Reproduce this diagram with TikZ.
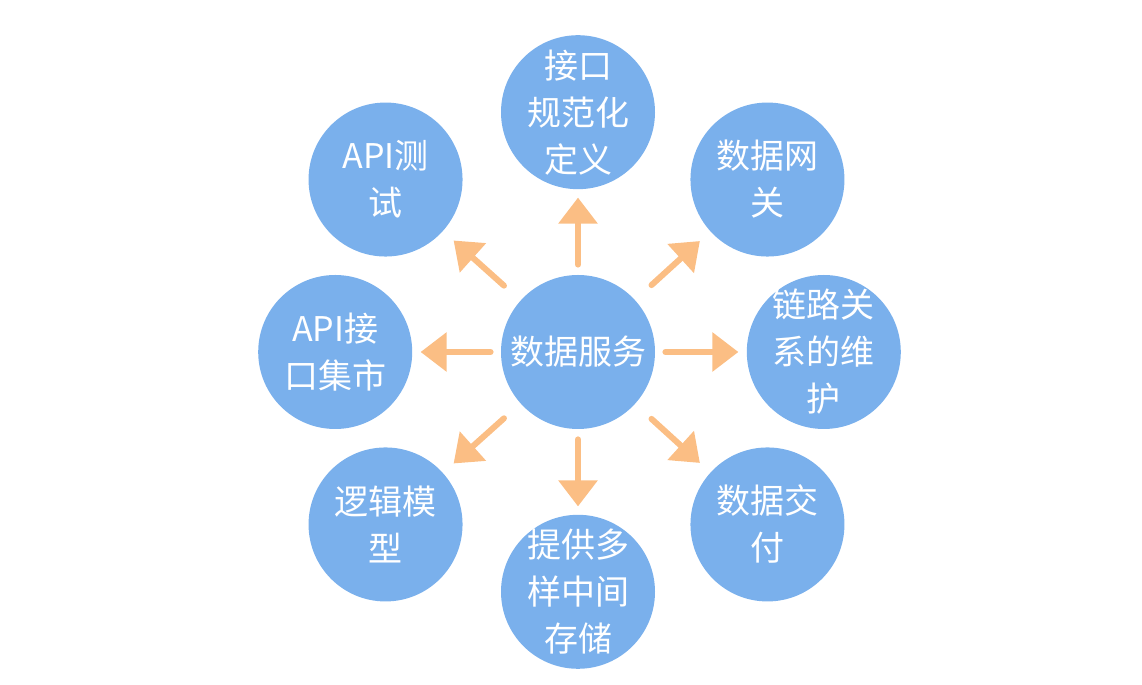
\documentclass[tikz,border=0pt]{standalone}
\usepackage{fontspec}
\setmainfont{Noto Sans CJK SC}
\usetikzlibrary{arrows.meta,positioning}
\definecolor{circblue}{RGB}{122,176,236}
\definecolor{arroworange}{RGB}{251,190,132}

\begin{document}
\begin{tikzpicture}[x=0.5pt, y=0.5pt,
    topic/.style={circle, fill=circblue, minimum size=77pt, inner sep=-10pt, align=center, text=white, font=\fontsize{17}{23.5}\selectfont},
    flow/.style={-{Triangle[length=13pt, width=19pt]}, line width=3pt, line cap=round, color=arroworange, shorten <=5pt, shorten >=4pt},
    diagflow/.style={flow, shorten <=11pt, shorten >=7pt}
]
    \useasboundingbox (0,0) rectangle (1142,685);

    \node[topic] (svc) at (578,333) {数据服务};
    \node[topic, above=42.5pt of svc] (spec) {接口\\规范化\\定义};
    \node[topic, below=42.5pt of svc] (store) {提供多\\样中间\\存储};
    \node[topic, left=44pt of svc] (market) {API接\\口集市};
    \node[topic, right=45.5pt of svc] (lineage) {链路关\\系的维\\护};
    \node[topic, above left=31.5pt and 41.5pt of svc] (apitest) {API测\\试};
    \node[topic, above right=31.5pt and 40pt of svc] (gateway) {数据网\\关};
    \node[topic, below left=31.5pt and 41.5pt of svc] (model) {逻辑模\\型};
    \node[topic, below right=31.5pt and 40pt of svc] (deliver) {数据交\\付};

    \draw[flow] (svc) -- (spec);
    \draw[flow] (svc) -- (store);
    \draw[flow] (svc) -- (market);
    \draw[flow] (svc) -- (lineage);
    \draw[diagflow] (svc) -- (apitest);
    \draw[diagflow] (svc) -- (gateway);
    \draw[diagflow] (svc) -- (model);
    \draw[diagflow] (svc) -- (deliver);
\end{tikzpicture}
\end{document}
